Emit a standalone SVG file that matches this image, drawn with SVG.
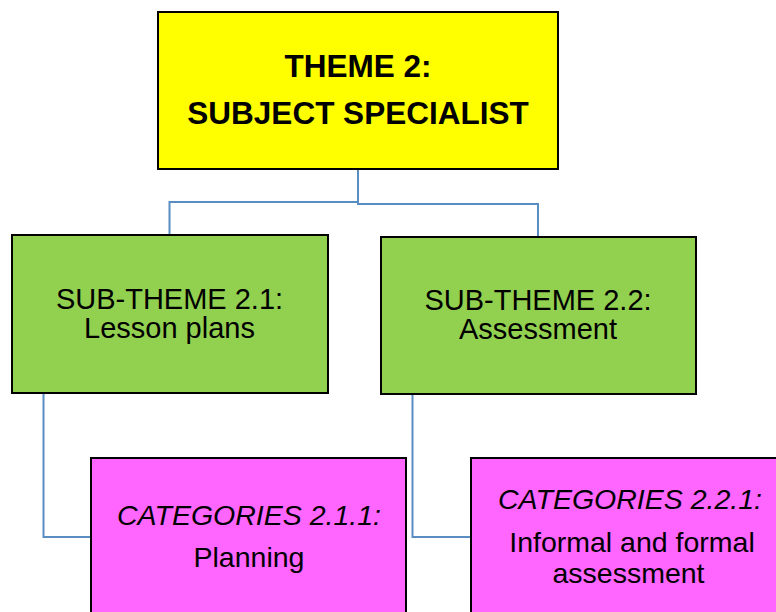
<svg xmlns="http://www.w3.org/2000/svg" width="776" height="612" viewBox="0 0 776 612">
  <style>
    .box { stroke: #000; stroke-width: 2; }
    .theme { fill: #FFFF00; }
    .sub { fill: #92D050; }
    .cat { fill: #FF66FF; }
    .link { fill: none; stroke: #5A8DC2; stroke-width: 2; }
    text { font-family: "Liberation Sans", Arial, sans-serif; fill: #000; text-anchor: middle; }
    .t-bold { font-size: 31.5px; font-weight: bold; }
    .t-sub { font-size: 29px; }
    .t-cat { font-size: 28.5px; }
    .it { font-style: italic; }
  </style>

  <rect width="776" height="612" fill="#FFFFFF"/>

  <g id="connectors">
    <path class="link" d="M358 169 V202 H169.5 V235"/>
    <path class="link" d="M358 202 V204 H538 V237"/>
    <path class="link" d="M43.5 393 V537 H91"/>
    <path class="link" d="M412.5 394 V537 H471"/>
  </g>

  <g id="theme-2">
    <rect class="box theme" x="158" y="12" width="400" height="157"/>
    <text class="t-bold" x="358" y="77">THEME 2:</text>
    <text class="t-bold" x="358" y="124">SUBJECT SPECIALIST</text>
  </g>

  <g id="sub-theme-2-1">
    <rect class="box sub" x="12" y="235" width="316" height="158"/>
    <text class="t-sub" x="169.5" y="308.5">SUB-THEME 2.1:</text>
    <text class="t-sub" x="169.5" y="337.5">Lesson plans</text>
  </g>

  <g id="sub-theme-2-2">
    <rect class="box sub" x="381" y="237" width="315" height="157"/>
    <text class="t-sub" x="538" y="309.5">SUB-THEME 2.2:</text>
    <text class="t-sub" x="538" y="339">Assessment</text>
  </g>

  <g id="category-2-1-1">
    <rect class="box cat" x="91" y="458" width="315" height="170"/>
    <text class="t-cat it" x="249" y="525">CATEGORIES 2.1.1:</text>
    <text class="t-cat" x="249" y="566.5">Planning</text>
  </g>

  <g id="category-2-2-1">
    <rect class="box cat" x="471" y="458" width="318" height="170"/>
    <text class="t-cat it" x="630" y="509">CATEGORIES 2.2.1:</text>
    <text class="t-cat" x="632" y="551.5">Informal and formal</text>
    <text class="t-cat" x="628.5" y="582.5">assessment</text>
  </g>
</svg>
